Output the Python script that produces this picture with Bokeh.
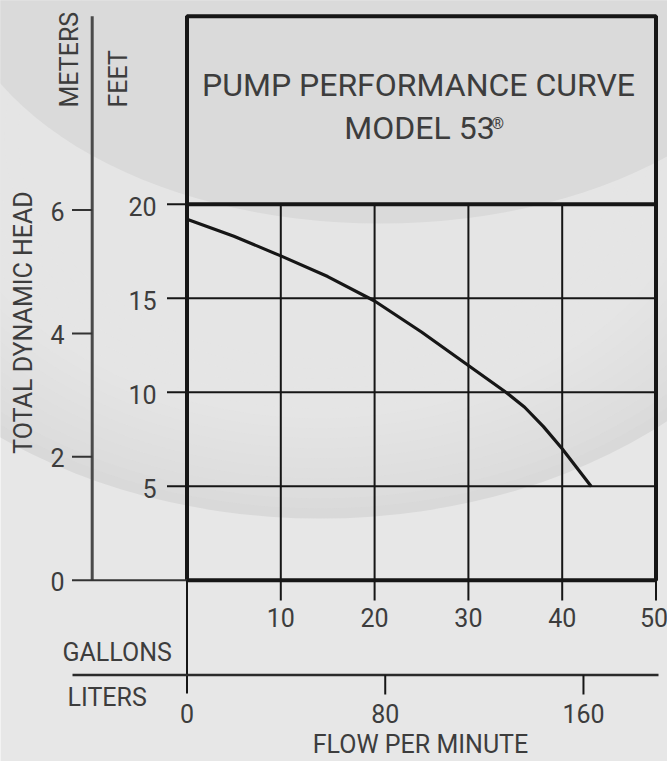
import numpy as np
from bokeh.plotting import figure
from bokeh.models import Range1d
from bokeh.core.properties import value
from bokeh.embed import file_html
from bokeh.resources import INLINE

# ---------------- data ----------------
gallons = [0, 5, 10, 15, 20, 25, 30, 34, 36, 38, 40, 43.1]
head_ft = [19.2, 18.3, 17.25, 16.15, 14.85, 13.2, 11.42, 10.0, 9.2, 8.17, 6.99, 4.98]

gal_ticks = [10, 20, 30, 40, 50]
gal_labels = ["10", "20", "30", "40", "50"]
gal_grid = [10, 20, 30, 40]
ft_ticks = [5, 10, 15, 20]
ft_labels = ["5", "10", "15", "20"]
ft_grid = [5, 10, 15]
m_ticks = [0, 2, 4, 6]
m_labels = ["0", "2", "4", "6"]
l_ticks = [0, 80, 160]
l_labels = ["0", "80", "160"]

FT_PER_M = 3.28084
L_PER_GAL = 3.78541
GAL_MAX = 50
FT_MAX = 30
FT_TITLE = 20

TITLE1 = "PUMP PERFORMANCE CURVE"
TITLE2 = "MODEL 53"

# ---------------- layout ----------------
W, H = 667, 761
X0, XS = 186.5, 9.38   # px of 0 gal, px per gallon
Y0, YS = 579.7, 18.8   # px of 0 ft, px per foot


def gx(px):
    return (px - X0) / XS


def fy(py):
    return (Y0 - py) / YS


FONT = value("Roboto")
TXT = "#3d3d3d"
LINE = "#161616"
LBL = "25px"

p = figure(width=W, height=H,
           x_range=Range1d(gx(0), gx(W)),
           y_range=Range1d(fy(H), fy(0)),
           output_backend="svg", toolbar_location=None,
           x_axis_location=None, y_axis_location=None, min_border=0)
p.grid.grid_line_color = None
p.outline_line_color = None
p.background_fill_color = "#e7e7e7"
p.border_fill_color = "#e7e7e7"

# background swooshes (decoration)
p.ellipse(x=[gx(320)], y=[fy(136)], width=[2 * 520 / XS], height=[2 * 382 / YS],
          fill_color="#d9d9d9", line_color=None)
for k in range(1, 17):
    bk = 382 - 10 * k
    ak = 520 - 10 * k * 520 / 382
    p.ellipse(x=[gx(320)], y=[fy(136)], width=[2 * ak / XS], height=[2 * bk / YS],
              fill_color="#ececec", fill_alpha=0.11, line_color=None)
p.ellipse(x=[gx(380)], y=[fy(-40)], width=[2 * 430 / XS], height=[2 * 263 / YS],
          fill_color="#dadada", line_color=None)

# grid inside chart
p.segment(x0=gal_grid, y0=[0] * len(gal_grid), x1=gal_grid, y1=[FT_TITLE] * len(gal_grid),
          line_color=LINE, line_width=2)
p.segment(x0=[0] * len(ft_grid), y0=ft_grid, x1=[GAL_MAX] * len(ft_grid), y1=ft_grid,
          line_color=LINE, line_width=2)
p.segment(x0=[0], y0=[FT_TITLE], x1=[GAL_MAX], y1=[FT_TITLE], line_color=LINE, line_width=4)

# performance curve
p.line(gallons, head_ft, line_color=LINE, line_width=3.2, line_join="round")

# frame
p.quad(left=[0], right=[GAL_MAX], bottom=[0], top=[FT_MAX], fill_color=None,
       line_color=LINE, line_width=4)

# feet ticks
p.segment(x0=[gx(166.5)] * len(ft_ticks), y0=ft_ticks, x1=[0] * len(ft_ticks), y1=ft_ticks,
          line_color=LINE, line_width=2)
p.text(x=[gx(156)] * len(ft_ticks), y=[t - 2 / YS for t in ft_ticks], text=ft_labels,
       text_font=FONT, text_font_size=LBL, text_color=TXT, text_align="right",
       text_baseline="alphabetic")

# meters axis
m_ft = [m * FT_PER_M for m in m_ticks]
p.segment(x0=[gx(91.7)], y0=[0], x1=[gx(91.7)], y1=[FT_MAX], line_color="#4a4a4a", line_width=3)
p.segment(x0=[gx(71.5)] * 3, y0=m_ft[1:], x1=[gx(91.7)] * 3, y1=m_ft[1:],
          line_color="#333333", line_width=2)
p.segment(x0=[gx(71.5)], y0=[0], x1=[0], y1=[0], line_color="#333333", line_width=2)
p.text(x=[gx(64)] * len(m_ticks), y=[v - 1 / YS for v in m_ft], text=m_labels,
       text_font=FONT, text_font_size=LBL, text_color=TXT, text_align="right",
       text_baseline="alphabetic")

# gallons ticks
p.segment(x0=gal_ticks, y0=[0] * len(gal_ticks), x1=gal_ticks, y1=[fy(600)] * len(gal_ticks),
          line_color=LINE, line_width=2)
p.text(x=gal_ticks[:-1], y=[fy(617)] * (len(gal_ticks) - 1), text=gal_labels[:-1],
       text_font=FONT, text_font_size=LBL, text_color=TXT, text_align="center",
       text_baseline="alphabetic")
p.text(x=[gal_ticks[-1]], y=[fy(617)], text=[gal_labels[-1]], x_offset=-2,
       text_font=FONT, text_font_size=LBL, text_color=TXT, text_align="center",
       text_baseline="alphabetic")
p.segment(x0=[0], y0=[0], x1=[0], y1=[fy(693)], line_color=LINE, line_width=2)

# liters axis
l_gal = [v / L_PER_GAL for v in l_ticks]
p.segment(x0=[gx(72)], y0=[fy(674.5)], x1=[gx(658)], y1=[fy(674.5)], line_color="#2a2a2a",
          line_width=2.5)
p.segment(x0=l_gal[1:], y0=[fy(674.5)] * 2, x1=l_gal[1:], y1=[fy(694)] * 2,
          line_color=LINE, line_width=2)
p.text(x=l_gal, y=[fy(712.5)] * len(l_gal), text=l_labels,
       text_font=FONT, text_font_size=LBL, text_color=TXT, text_align="center",
       text_baseline="alphabetic")

# axis captions
p.text(x=[gx(62)], y=[fy(651.5)], text=["GALLONS"], text_font=FONT, text_font_size=LBL,
       text_color=TXT, text_align="left", text_baseline="alphabetic")
p.text(x=[gx(67)], y=[fy(697)], text=["LITERS"], text_font=FONT, text_font_size=LBL,
       text_color=TXT, text_align="left", text_baseline="alphabetic")
p.text(x=[gx(420)], y=[fy(744)], text=["FLOW PER MINUTE"], text_font=FONT,
       text_font_size=LBL, text_color=TXT, text_align="center", text_baseline="alphabetic")
p.text(x=[gx(22.5)], y=[fy(322)], text=["TOTAL DYNAMIC HEAD"], angle=np.pi / 2,
       text_font=FONT, text_font_size=LBL, text_color=TXT, text_align="center",
       text_baseline="alphabetic")
p.text(x=[gx(69)], y=[fy(107)], text=["METERS"], angle=np.pi / 2,
       text_font=FONT, text_font_size=LBL, text_color=TXT, text_align="left",
       text_baseline="alphabetic")
p.text(x=[gx(117.5)], y=[fy(107)], text=["FEET"], angle=np.pi / 2,
       text_font=FONT, text_font_size=LBL, text_color=TXT, text_align="left",
       text_baseline="alphabetic")

# title
p.text(x=[gx(418)], y=[fy(84)], text=[TITLE1], text_font=FONT, text_font_size="32px",
       text_color=TXT, text_align="center", text_baseline="alphabetic")
p.text(x=[gx(419)], y=[fy(127.5)], text=[TITLE2], text_font=FONT, text_font_size="32px",
       text_color=TXT, text_align="center", text_baseline="alphabetic")
p.text(x=[gx(491)], y=[fy(123)], text=["®"], text_font=FONT, text_font_size="16px",
       text_color=TXT, text_align="left", text_baseline="alphabetic")

open("out.html", "w").write(file_html(p, INLINE))
